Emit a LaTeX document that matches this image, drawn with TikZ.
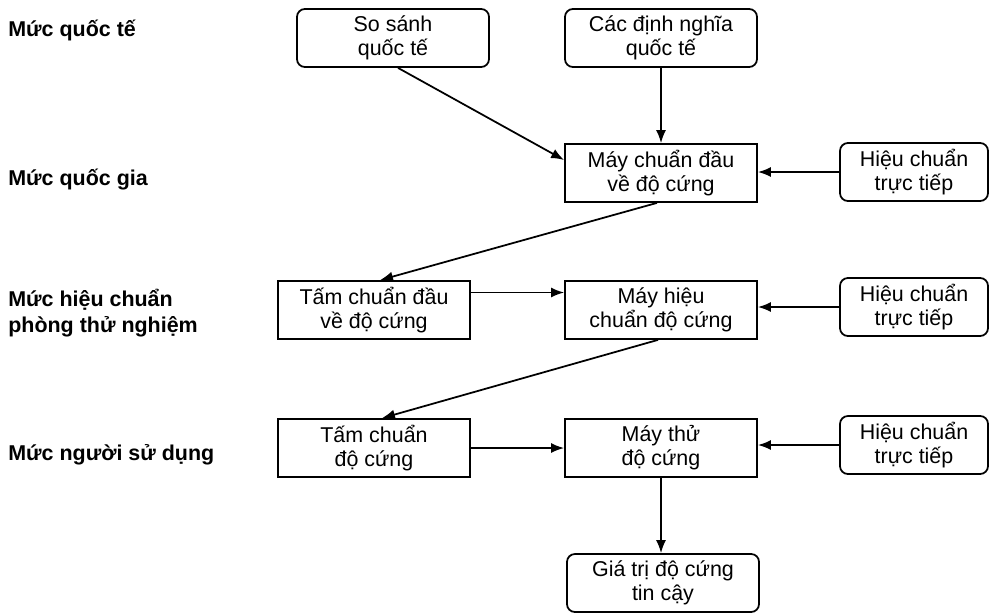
\documentclass[tikz,border=0pt]{standalone}
\usepackage{fontspec}
\setmainfont{Liberation Sans}
\usepackage{tikz}
\usetikzlibrary{calc, positioning, arrows.meta}

\tikzset{
  hop/.style={draw, line width=1pt, minimum width=3.84cm, minimum height=1.16cm,
    align=center, inner sep=2pt, font=\fontsize{12.2}{13.6}\selectfont},
  hoptron/.style={hop, rounded corners=4.5pt},
  hopnho/.style={hoptron, minimum width=2.96cm},
  muc/.style={anchor=west, inner sep=0pt, align=left,
    font=\fontsize{12.2}{15}\selectfont\bfseries},
  mui/.style={-{Latex[length=2.6mm, width=2mm]}, line width=1pt}
}

\begin{document}
\begin{tikzpicture}
    \useasboundingbox (0,0) rectangle (19.78,-12.26);
    % 1. Các mức
    \node[muc] (m1) at (0.16,-0.6) {Mức quốc tế};
    \node[muc] (m2) at (0.16,-3.6) {Mức quốc gia};
    \node[muc] (m3) at (0.16,-6.26) {Mức hiệu chuẩn\\phòng thử nghiệm};
    \node[muc] (m4) at (0.16,-9.1) {Mức người sử dụng};

    % 2. Các hộp
    \node[hoptron] (sosanh) at (7.86,-0.76) {So sánh\\quốc tế};
    \node[hoptron] (dinhnghia) at (13.22,-0.76) {Các định nghĩa\\quốc tế};
    \node[hop] (maychuan) at (13.22,-3.46) {Máy chuẩn đầu\\về độ cứng};
    \node[hopnho] (hc1) at (18.28,-3.44) {Hiệu chuẩn\\trực tiếp};
    \node[hop] (tamdau) at (7.48,-6.2) {Tấm chuẩn đầu\\về độ cứng};
    \node[hop] (mayhc) at (13.22,-6.2) {Máy hiệu\\chuẩn độ cứng};
    \node[hopnho] (hc2) at (18.28,-6.14) {Hiệu chuẩn\\trực tiếp};
    \node[hop] (tamcd) at (7.48,-8.96) {Tấm chuẩn\\độ cứng};
    \node[hop] (maythu) at (13.22,-8.96) {Máy thử\\độ cứng};
    \node[hopnho] (hc3) at (18.28,-8.9) {Hiệu chuẩn\\trực tiếp};
    \node[hoptron] (giatri) at (13.26,-11.66) {Giá trị độ cứng\\tin cậy};

    % 3. Các mũi tên
    \draw[mui] ([xshift=0.1cm]sosanh.south) -- ([yshift=0.26cm]maychuan.west);
    \draw[mui] (dinhnghia) -- (maychuan);
    \draw[mui] (hc1) -- (hc1 -| maychuan.east);
    \draw[mui] ([xshift=-0.08cm]maychuan.south) -- ([xshift=0.12cm]tamdau.north);
    \draw[mui] ([yshift=0.35cm]tamdau.east) -- ([yshift=0.35cm]mayhc.west);
    \draw[mui] (hc2) -- (hc2 -| mayhc.east);
    \draw[mui] ([xshift=-0.06cm]mayhc.south) -- ([xshift=0.16cm]tamcd.north);
    \draw[mui] (tamcd) -- (maythu);
    \draw[mui] (hc3) -- (hc3 -| maythu.east);
    \draw[mui] (maythu.south) -- (maythu.south |- giatri.north);
\end{tikzpicture}
\end{document}
